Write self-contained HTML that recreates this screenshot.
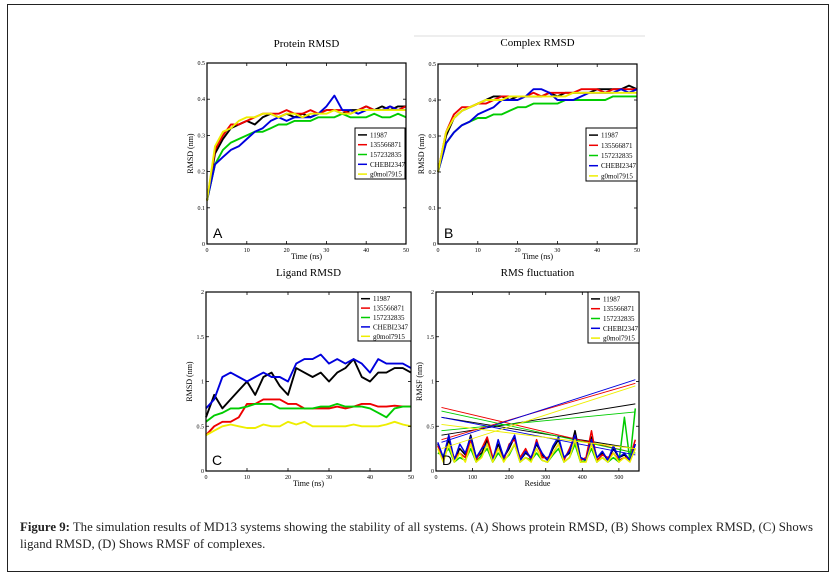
<!DOCTYPE html>
<html><head><meta charset="utf-8">
<style>
html,body{margin:0;padding:0;background:#fff;}
body{width:837px;height:579px;position:relative;overflow:hidden;font-family:"Liberation Serif",serif;}
#frame{position:absolute;left:7px;top:4px;width:822px;height:568px;border:1.5px solid #222;box-sizing:border-box;}
#caption{position:absolute;left:20px;top:519px;width:805px;font-size:12.8px;line-height:17px;color:#222;}
svg{position:absolute;left:0;top:0;}
</style></head>
<body>
<div id="frame"></div>
<svg id="fig" width="837" height="579"></svg>
<div id="caption"><b>Figure 9:</b> The simulation results of MD13 systems showing the stability of all systems. (A) Shows protein RMSD, (B) Shows complex RMSD, (C) Shows ligand RMSD, (D) Shows RMSF of complexes.</div>
<script>
const seriesNames = ["11987","135566871","157232835","CHEBI2347","g0mol7915"];
const seriesColors = ["#000","#e00","#0c0","#00d","#ee0"];
const timeTicks = [0,10,20,30,40,50];
const rmsdTicksA = [0,0.1,0.2,0.3,0.4,0.5];
const rmsdTicksC = [0,0.5,1,1.5,2];
const residueTicks = [0,100,200,300,400,500];
const times = [0,2,4,6,8,10,12,14,16,18,20,22,24,26,28,30,32,34,36,38,40,42,44,46,48,50];
const protBlack=[0.12,0.25,0.29,0.32,0.33,0.34,0.33,0.35,0.36,0.35,0.36,0.35,0.36,0.35,0.36,0.37,0.37,0.36,0.37,0.37,0.38,0.37,0.38,0.37,0.38,0.38];
const protRed=[0.12,0.26,0.30,0.33,0.33,0.34,0.35,0.36,0.36,0.36,0.37,0.36,0.36,0.37,0.36,0.37,0.37,0.37,0.36,0.37,0.38,0.37,0.37,0.38,0.37,0.38];
const protGreen=[0.12,0.22,0.26,0.28,0.29,0.30,0.31,0.31,0.32,0.33,0.33,0.34,0.34,0.34,0.35,0.35,0.35,0.36,0.35,0.35,0.35,0.36,0.35,0.35,0.36,0.35];
const protBlue=[0.12,0.22,0.24,0.26,0.27,0.29,0.31,0.32,0.34,0.35,0.34,0.35,0.35,0.35,0.36,0.38,0.41,0.37,0.37,0.36,0.37,0.37,0.37,0.38,0.37,0.37];
const protYellow=[0.12,0.27,0.31,0.32,0.34,0.35,0.35,0.36,0.36,0.35,0.36,0.36,0.35,0.36,0.36,0.36,0.37,0.36,0.36,0.37,0.37,0.37,0.37,0.37,0.37,0.37];
const cplxBlack=[0.2,0.30,0.35,0.37,0.38,0.39,0.40,0.41,0.41,0.40,0.41,0.41,0.41,0.41,0.42,0.41,0.42,0.42,0.42,0.42,0.43,0.43,0.43,0.43,0.44,0.43];
const cplxRed=[0.2,0.31,0.36,0.38,0.38,0.39,0.39,0.40,0.41,0.41,0.41,0.41,0.42,0.41,0.42,0.42,0.42,0.42,0.43,0.43,0.43,0.42,0.43,0.43,0.43,0.43];
const cplxGreen=[0.2,0.28,0.31,0.33,0.34,0.35,0.35,0.36,0.36,0.37,0.38,0.38,0.39,0.39,0.39,0.39,0.40,0.40,0.40,0.40,0.40,0.40,0.41,0.41,0.41,0.41];
const cplxBlue=[0.2,0.28,0.31,0.33,0.34,0.36,0.37,0.38,0.40,0.40,0.40,0.41,0.43,0.43,0.42,0.40,0.40,0.40,0.41,0.42,0.42,0.42,0.42,0.43,0.42,0.43];
const cplxYellow=[0.2,0.31,0.35,0.37,0.38,0.39,0.40,0.40,0.40,0.41,0.41,0.41,0.41,0.41,0.41,0.41,0.41,0.42,0.42,0.42,0.42,0.42,0.42,0.42,0.42,0.42];
const ligBlack=[0.6,0.85,0.7,0.8,0.9,1.0,0.85,1.05,1.1,0.95,0.85,1.15,1.1,1.05,1.1,1.0,1.1,1.15,1.25,1.05,1.0,1.1,1.1,1.15,1.15,1.1];
const ligRed=[0.4,0.5,0.55,0.55,0.6,0.75,0.75,0.8,0.8,0.8,0.75,0.75,0.7,0.7,0.7,0.7,0.72,0.7,0.72,0.75,0.75,0.72,0.72,0.73,0.72,0.72];
const ligGreen=[0.55,0.62,0.65,0.7,0.7,0.72,0.75,0.75,0.75,0.7,0.7,0.7,0.7,0.7,0.72,0.72,0.75,0.72,0.72,0.72,0.7,0.65,0.6,0.7,0.72,0.72];
const ligBlue=[0.7,0.8,1.05,1.1,1.05,1.0,1.05,1.1,1.05,1.05,1.0,1.2,1.25,1.25,1.3,1.2,1.25,1.2,1.25,1.2,1.1,1.25,1.2,1.2,1.2,1.15];
const ligYellow=[0.4,0.45,0.5,0.52,0.5,0.48,0.48,0.52,0.5,0.5,0.55,0.52,0.55,0.5,0.5,0.5,0.5,0.5,0.52,0.5,0.5,0.5,0.52,0.55,0.52,0.5];
const residues=[5,20,35,50,65,80,95,110,125,140,155,170,185,200,215,230,245,260,275,290,305,320,335,350,365,380,395,410,425,440,455,470,485,500,515,530,545];
const rmsfBlack=[0.3,0.15,0.35,0.12,0.25,0.18,0.4,0.15,0.2,0.35,0.12,0.3,0.15,0.25,0.38,0.12,0.2,0.15,0.3,0.18,0.12,0.25,0.35,0.15,0.2,0.45,0.15,0.12,0.38,0.15,0.2,0.12,0.25,0.15,0.18,0.12,0.3];
const rmsfRed=[0.28,0.12,0.3,0.15,0.2,0.15,0.35,0.12,0.25,0.38,0.15,0.25,0.12,0.3,0.35,0.15,0.25,0.12,0.35,0.15,0.15,0.2,0.3,0.12,0.25,0.4,0.12,0.15,0.45,0.12,0.18,0.15,0.2,0.12,0.15,0.15,0.35];
const rmsfGreen=[0.2,0.18,0.25,0.1,0.15,0.12,0.25,0.1,0.18,0.25,0.1,0.2,0.12,0.18,0.3,0.1,0.15,0.12,0.2,0.12,0.1,0.18,0.25,0.1,0.15,0.3,0.1,0.12,0.25,0.1,0.15,0.1,0.15,0.1,0.6,0.12,0.7];
const rmsfBlue=[0.32,0.15,0.4,0.12,0.3,0.2,0.38,0.15,0.25,0.3,0.12,0.35,0.15,0.28,0.4,0.12,0.22,0.15,0.32,0.2,0.12,0.28,0.38,0.15,0.22,0.4,0.15,0.12,0.35,0.15,0.22,0.12,0.28,0.15,0.2,0.12,0.3];
const rmsfYellow=[0.25,0.1,0.3,0.1,0.2,0.1,0.3,0.1,0.15,0.3,0.1,0.25,0.1,0.2,0.3,0.1,0.15,0.1,0.25,0.12,0.1,0.2,0.3,0.1,0.15,0.35,0.1,0.1,0.3,0.1,0.15,0.1,0.2,0.1,0.15,0.1,0.25];
const rmsfUpStart=[0.40,0.35,0.45,0.32,0.25];
const rmsfUpEnd=[0.75,0.98,0.66,1.02,0.95];
const rmsfDownStart=[0.60,0.71,0.67,0.60,0.52];
const rmsfDownEnd=[0.25,0.20,0.20,0.18,0.25];

const NS="http://www.w3.org/2000/svg";
const svg=document.getElementById('fig');
function mk(tag,attrs,parent){const e=document.createElementNS(NS,tag);for(const k in attrs)e.setAttribute(k,attrs[k]);(parent||svg).appendChild(e);return e;}
function txt(s,attrs,parent){const t=mk('text',attrs,parent);t.textContent=s;return t;}

function panel(cfg){
  const g=mk('g',{});
  
  
  const X=v=>cfg.x0+(v-cfg.xmin)/(cfg.xmax-cfg.xmin)*(cfg.x1-cfg.x0);
  const Y=v=>cfg.y1-(v-cfg.ymin)/(cfg.ymax-cfg.ymin)*(cfg.y1-cfg.y0);
  const t=txt(cfg.title,{x:(cfg.x0+cfg.x1)/2,y:cfg.titleY,'font-size':11,'text-anchor':'middle','font-family':'Liberation Serif, serif'},g);
  
  
  cfg.series.forEach((s,i)=>{
    let d='';
    s.xs.forEach((xv,j)=>{d+=(j?'L':'M')+X(xv).toFixed(1)+' '+Y(s.ys[j]).toFixed(1);});
    const p=mk('path',{d:d,fill:'none',stroke:seriesColors[i],'stroke-width':cfg.sw||1.9,'stroke-linejoin':'round'},g);
    
    
    if(s.segs){s.segs.forEach(sg=>{
      const l=mk('line',{x1:X(sg[0]),y1:Y(sg[1]),x2:X(sg[2]),y2:Y(sg[3]),stroke:seriesColors[i],'stroke-width':0.9},g);
      
      
    });}
  });
  const box=mk('rect',{x:cfg.x0,y:cfg.y0,width:cfg.x1-cfg.x0,height:cfg.y1-cfg.y0,fill:'none',stroke:'#000','stroke-width':1.2},g);
  
  
  cfg.xticks.forEach(v=>{
    mk('line',{x1:X(v),x2:X(v),y1:cfg.y1,y2:cfg.y1-3,stroke:'#000','stroke-width':0.8},g);
    mk('line',{x1:X(v),x2:X(v),y1:cfg.y0,y2:cfg.y0+3,stroke:'#000','stroke-width':0.8},g);
    const tl=txt(String(v),{x:X(v),y:cfg.y1+8,'font-size':6,'text-anchor':'middle'},g);
    
    
  });
  cfg.yticks.forEach(v=>{
    mk('line',{x1:cfg.x0,x2:cfg.x0+3,y1:Y(v),y2:Y(v),stroke:'#000','stroke-width':0.8},g);
    mk('line',{x1:cfg.x1,x2:cfg.x1-3,y1:Y(v),y2:Y(v),stroke:'#000','stroke-width':0.8},g);
    const tl=txt(String(v),{x:cfg.x0-2,y:Y(v)+2,'font-size':6,'text-anchor':'end'},g);
    
    
  });
  const xl=txt(cfg.xlabel,{x:(cfg.x0+cfg.x1)/2,y:cfg.y1+15,'font-size':8,'text-anchor':'middle'},g);
  
  
  const cy=(cfg.y0+cfg.y1)/2;
  const yl=txt(cfg.ylabel,{x:cfg.x0-14,y:cy,'font-size':8,'text-anchor':'middle',transform:`rotate(-90 ${cfg.x0-14} ${cy})`},g);
  
  
  const L=cfg.legend;
  const lg=mk('g',{},g);
  
  
  mk('rect',{x:L[0],y:L[1],width:L[2]-L[0],height:L[3]-L[1],fill:'#fff',stroke:'#000','stroke-width':1},lg);
  const rh=(L[3]-L[1]-2)/5;
  seriesNames.forEach((n,i)=>{
    const yy=L[1]+2+rh*(i+0.5);
    const e=mk('g',{},lg);
    
    
    mk('line',{x1:L[0]+3,x2:L[0]+12,y1:yy,y2:yy,stroke:seriesColors[i],'stroke-width':1.5},e);
    txt(n,{x:L[0]+15,y:yy+2.5,'font-size':7},e);
  });
  if(cfg.letter){
    const lt=txt(cfg.letter,{x:cfg.x0+6,y:cfg.y1-6,'font-size':14,'font-family':'Liberation Sans, sans-serif'},g);
    
    
  }
}
function tseries(arrs){return arrs.map(a=>({xs:times,ys:a}));}

panel({name:'panel-a-protein-rmsd',title:'Protein RMSD',titleY:47,x0:207,x1:406,y0:63,y1:244,xmin:0,xmax:50,ymin:0,ymax:0.5,
  xticks:timeTicks,yticks:rmsdTicksA,xlabel:'Time (ns)',ylabel:'RMSD (nm)',legend:[355,128,405,179],letter:'A',
  series:tseries([protBlack,protRed,protGreen,protBlue,protYellow])});
panel({name:'panel-b-complex-rmsd',title:'Complex RMSD',titleY:46,x0:438,x1:637,y0:64,y1:244,xmin:0,xmax:50,ymin:0,ymax:0.5,
  xticks:timeTicks,yticks:rmsdTicksA,xlabel:'Time (ns)',ylabel:'RMSD (nm)',legend:[586,128,637,181],letter:'B',
  series:tseries([cplxBlack,cplxRed,cplxGreen,cplxBlue,cplxYellow])});
panel({name:'panel-c-ligand-rmsd',title:'Ligand RMSD',titleY:276,x0:206,x1:411,y0:292,y1:471,xmin:0,xmax:50,ymin:0,ymax:2,
  xticks:timeTicks,yticks:rmsdTicksC,xlabel:'Time (ns)',ylabel:'RMSD (nm)',legend:[358,292,411,341],letter:'C',
  series:tseries([ligBlack,ligRed,ligGreen,ligBlue,ligYellow])});
const rmsfArrs=[rmsfBlack,rmsfRed,rmsfGreen,rmsfBlue,rmsfYellow];
panel({name:'panel-d-rmsf',title:'RMS fluctuation',titleY:276,x0:436,x1:639,y0:292,y1:471,xmin:0,xmax:555,ymin:0,ymax:2,sw:1.5,
  xticks:residueTicks,yticks:rmsdTicksC,xlabel:'Residue',ylabel:'RMSF (nm)',legend:[588,292,639,343],letter:'D',
  series:rmsfArrs.map((a,i)=>({xs:residues,ys:a,segs:[[15,rmsfUpStart[i],545,rmsfUpEnd[i]],[15,rmsfDownStart[i],545,rmsfDownEnd[i]]]}))});
const sep=mk('line',{x1:414,x2:645,y1:36,y2:36,stroke:'#ddd','stroke-width':1});


</script>
</body></html>
